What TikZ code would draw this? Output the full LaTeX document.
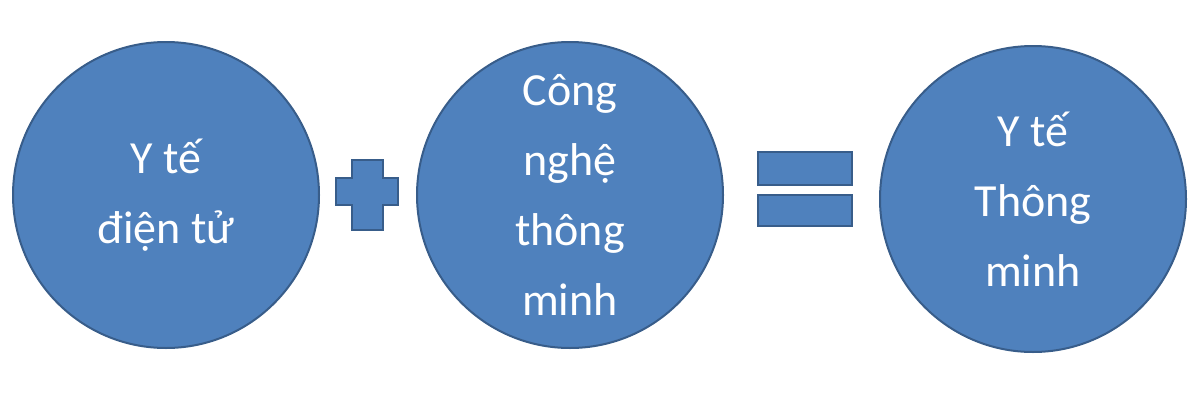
\documentclass[tikz,border=0pt]{standalone}
\usepackage{fontspec}
\setmainfont{Carlito}
\definecolor{fillb}{HTML}{4F81BD}
\definecolor{edgeb}{HTML}{385D8A}
\begin{document}
\begin{tikzpicture}[x=1pt,y=-1pt,
  ball/.style={circle,fill=fillb,draw=edgeb,line width=2pt,minimum size=306pt,inner sep=0pt,
    text=white,align=center,font=\fontsize{46}{70}\selectfont},
  bar/.style={fill=fillb,draw=edgeb,line width=1.5pt}]
\useasboundingbox (0,0) rectangle (1200,402);
\node[ball] (a) at (166,195) {Y tế\\điện tử};
\node[ball] (b) at (570,195) {Công\\nghệ\\thông\\minh};
\node[ball] (c) at (1033,199) {Y tế\\Thông\\minh};
\path[bar] (352,160) -- (383,160) -- (383,178) -- (398,178) -- (398,205) -- (383,205) -- (383,230) -- (352,230) -- (352,205) -- (336,205) -- (336,178) -- (352,178) -- cycle;
\path[bar] (758,152) rectangle (852,185);
\path[bar] (758,195) rectangle (852,226);
\end{tikzpicture}
\end{document}
